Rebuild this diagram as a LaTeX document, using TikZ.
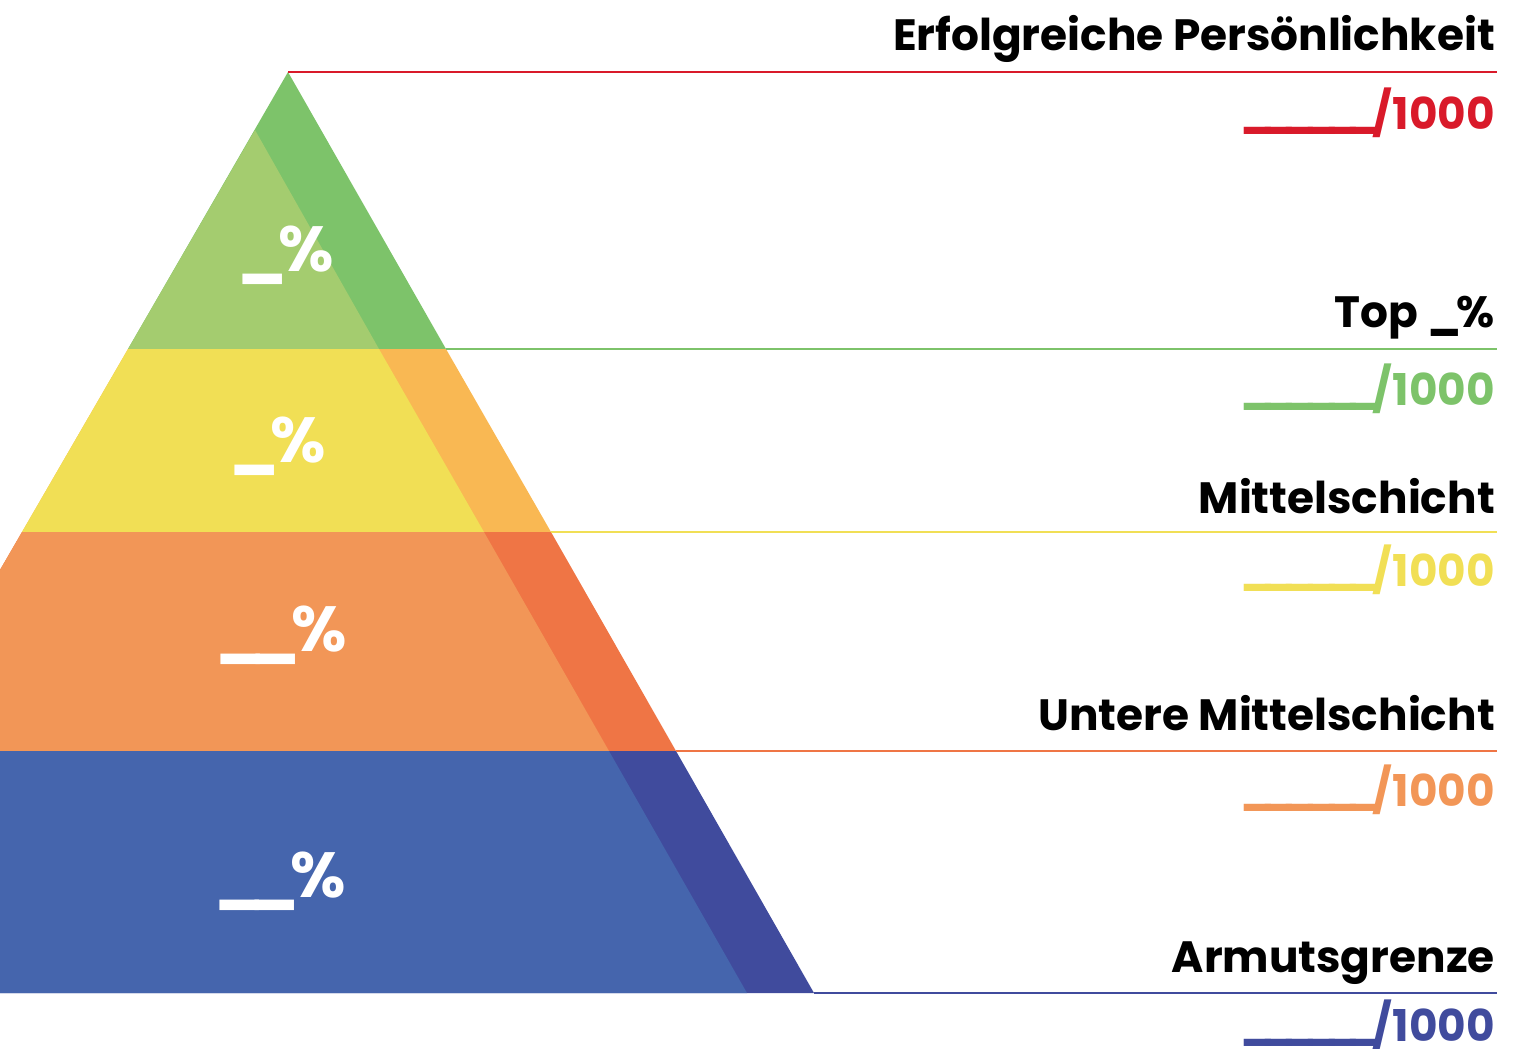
\documentclass[tikz,border=0pt]{standalone}
\usepackage{fontspec}
\setmainfont{Poppins}
\definecolor{greenL}{HTML}{A4CC6F}
\definecolor{greenD}{HTML}{7DC36A}
\definecolor{yellowL}{HTML}{F1DF55}
\definecolor{yellowD}{HTML}{F9B853}
\definecolor{orangeL}{HTML}{F29657}
\definecolor{orangeD}{HTML}{EF7545}
\definecolor{blueL}{HTML}{4565AD}
\definecolor{blueD}{HTML}{404B9D}
\definecolor{redT}{HTML}{D91A2A}
% joined underscores for the blanks
\newcommand\sblank{\raisebox{4bp}{\_\kern-13bp\_\kern-13bp\_\kern-13bp\_\kern-13bp\_\kern-13bp\_}\kern-8bp}
\newcommand\pblank{\_\kern-15bp}
\begin{document}
\begin{tikzpicture}[x=1bp, y=-1bp,
    level/.style={line width=1.6bp},
    title/.style={anchor=base east, inner sep=0pt,
        font=\fontsize{44}{52}\selectfont\bfseries},
    score/.style={anchor=base east, inner sep=0pt,
        font=\fontsize{44}{52}\selectfont\bfseries},
    pct/.style={text=white, inner sep=0pt,
        font=\fontsize{64}{70}\selectfont\bfseries}]
    \useasboundingbox (0,0) rectangle (1513,1048);
    \clip (0,0) rectangle (1513,1048);
    % pyramid corners: left edge L, inner edge I, right edge R
    \coordinate (apex) at (288,72);
    \coordinate (tip) at (255,130);
    \coordinate (L1) at (128,349);   \coordinate (I1) at (379,349);   \coordinate (R1) at (446,349);
    \coordinate (L2) at (22,532);    \coordinate (I2) at (484,532);   \coordinate (R2) at (551,532);
    \coordinate (L3) at (-105,751);  \coordinate (I3) at (609,751);   \coordinate (R3) at (676,751);
    \coordinate (L4) at (-244,993);  \coordinate (I4) at (747,993);   \coordinate (R4) at (814,993);
    % top piece
    \fill[greenD] (apex) -- (R1) -- (L1) -- cycle;
    \fill[greenL] (tip) -- (I1) -- (L1) -- cycle;
    % lower bands
    \foreach \a/\b/\cl/\cd in {1/2/yellowL/yellowD, 2/3/orangeL/orangeD, 3/4/blueL/blueD}{
        \fill[\cd] (L\a) -- (R\a) -- (R\b) -- (L\b) -- cycle;
        \fill[\cl] (L\a) -- (I\a) -- (I\b) -- (L\b) -- cycle;
    }
    % level lines to the right margin
    \coordinate (E0) at (1497,72);
    \coordinate (E1) at (1497,349);
    \coordinate (E2) at (1497,532);
    \coordinate (E3) at (1497,751);
    \coordinate (E4) at (1497,993);
    \draw[level, redT] (apex) -- (E0);
    \draw[level, greenD] (R1) -- (E1);
    \draw[level, yellowL] (R2) -- (E2);
    \draw[level, orangeD] (R3) -- (E3);
    \draw[level, blueD] (R4) -- (E4);
    % titles
    \node[title] (t0) at (1495,50) {Erfolgreiche Persönlichkeit};
    \node[title] (t1) at (1495,327) {Top \_\kern-5bp\%};
    \node[title] (t2) at (1495,513) {Mittelschicht};
    \node[title] (t3) at (1495,730) {Untere Mittelschicht};
    \node[title] (t4) at (1495,972) {Armutsgrenze};
    % scores
    \node[score, text=redT] (s0) at (1495,129) {\sblank/1000};
    \node[score, text=greenD] (s1) at (1495,405) {\sblank/1000};
    \node[score, text=yellowL] (s2) at (1495,586) {\sblank/1000};
    \node[score, text=orangeL] (s3) at (1495,806) {\sblank/1000};
    \node[score, text=blueD] (s4) at (1495,1041) {\sblank/1000};
    % percentages
    \node[pct] (p1) at (286,255) {\_\kern-9bp\%};
    \node[pct] (p2) at (278,446) {\_\kern-9bp\%};
    \node[pct] (p3) at (281,635) {\pblank\_\kern-9bp\%};
    \node[pct] (p4) at (280,881) {\pblank\_\kern-9bp\%};
\end{tikzpicture}
\end{document}
